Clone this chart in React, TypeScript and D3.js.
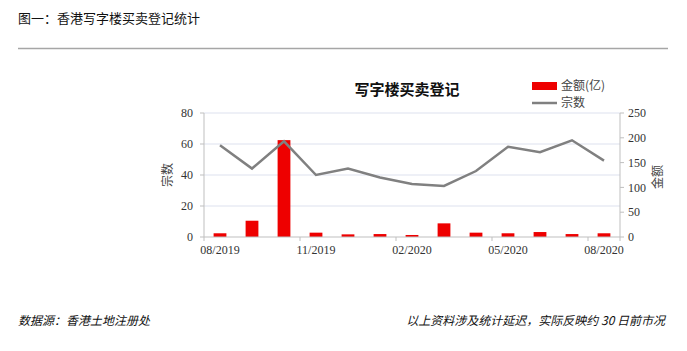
import React from "react";
import * as d3 from "d3";

const categories = ["08/2019","09/2019","10/2019","11/2019","12/2019","01/2020","02/2020","03/2020","04/2020","05/2020","06/2020","07/2020","08/2020"];
const amountValues = [2.4, 10.5, 62.5, 2.8, 1.7, 1.9, 1.3, 8.8, 2.8, 2.4, 3.2, 1.9, 2.4];
const countValues = [185, 138, 193, 125, 138, 120, 107, 103, 133, 182, 171, 195, 154];
const leftTicks = [0, 20, 40, 60, 80];
const rightTicks = [0, 50, 100, 150, 200, 250];
const labelEvery = 3;

const W = 687, H = 351;
const L = 204, R = 620, T = 113, B = 237;
const cjk = "'Noto Sans CJK SC', 'Noto Sans', sans-serif";
const serif = "'Liberation Serif', 'DejaVu Serif', serif";

export default function App() {
  const x = d3.scaleBand<string>().domain(categories).range([L, R]).paddingInner(0).paddingOuter(0);
  const yL = d3.scaleLinear().domain([0, 80]).range([B, T]);
  const yR = d3.scaleLinear().domain([0, 250]).range([B, T]);
  const bw = x.bandwidth() * 0.4;
  const line = d3.line<number>()
    .x((_, i) => (x(categories[i]) as number) + x.bandwidth() / 2)
    .y((d) => yR(d));

  return (
    <svg width={W} height={H} style={{ position: "absolute", left: 0, top: 0, background: "#fff" }}>
      <text x={18} y={23} fontFamily={cjk} fontSize={13} fill="#111">图一：香港写字楼买卖登记统计</text>
      <line x1={18} x2={668} y1={48.5} y2={48.5} stroke="#a6a6a6" strokeWidth={1.5} />

      <text x={407} y={95} textAnchor="middle" fontFamily={cjk} fontSize={15} fontWeight="bold" fill="#111">写字楼买卖登记</text>

      {leftTicks.slice(1).map((t) => (
        <line key={"g" + t} x1={L} x2={R} y1={yL(t)} y2={yL(t)} stroke="#dde1ee" strokeWidth={1} />
      ))}

      {categories.map((c, i) => (
        <rect key={c} x={(x(c) as number) + (x.bandwidth() - bw) / 2} y={yL(amountValues[i])}
          width={bw} height={B - yL(amountValues[i])} fill="#ee0000" />
      ))}

      <path d={line(countValues) || ""} fill="none" stroke="#808080" strokeWidth={2.5} />

      <line x1={L} x2={L} y1={T} y2={B} stroke="#bfbfbf" />
      <line x1={R} x2={R} y1={T} y2={B} stroke="#bfbfbf" />
      <line x1={L} x2={R} y1={B} y2={B} stroke="#bfbfbf" />

      {leftTicks.map((t) => (
        <g key={"l" + t}>
          <line x1={L - 4} x2={L} y1={yL(t)} y2={yL(t)} stroke="#bfbfbf" />
          <text x={L - 11} y={yL(t)} dy="0.35em" textAnchor="end" fontFamily={serif} fontSize={12} fill="#333">{t}</text>
        </g>
      ))}
      {rightTicks.map((t) => (
        <g key={"r" + t}>
          <line x1={R} x2={R + 4} y1={yR(t)} y2={yR(t)} stroke="#bfbfbf" />
          <text x={R + 8} y={yR(t)} dy="0.35em" textAnchor="start" fontFamily={serif} fontSize={12} fill="#333">{t}</text>
        </g>
      ))}

      {categories.map((c, i) => (i % labelEvery === 0 ? (
        <g key={"x" + c}>
          <line x1={x(c) as number} x2={x(c) as number} y1={B} y2={B + 4} stroke="#bfbfbf" />
          <text x={(x(c) as number) + x.bandwidth() / 2} y={B + 17} textAnchor="middle" fontFamily={serif} fontSize={12} fill="#333">{c}</text>
        </g>
      ) : null))}
      <line x1={R} x2={R} y1={B} y2={B + 4} stroke="#bfbfbf" />

      <text transform={`translate(172,175) rotate(-90)`} textAnchor="middle" fontFamily={cjk} fontSize={12} fill="#444">宗数</text>
      <text transform={`translate(662,177) rotate(-90)`} textAnchor="middle" fontFamily={cjk} fontSize={12} fill="#444">金额</text>

      <rect x={532} y={82} width={25} height={8} fill="#ee0000" />
      <text x={561} y={86} dy="0.35em" fontFamily={cjk} fontSize={12} fill="#444">金额(亿)</text>
      <line x1={532} x2={557} y1={103} y2={103} stroke="#808080" strokeWidth={2.5} />
      <text x={561} y={103} dy="0.35em" fontFamily={cjk} fontSize={12} fill="#444">宗数</text>

      <text x={18} y={325} fontFamily={cjk} fontSize={12} fontStyle="italic" fill="#111">数据源：香港土地注册处</text>
      <text x={665} y={325} textAnchor="end" fontFamily={cjk} fontSize={12} fontStyle="italic" fill="#111">以上资料涉及统计延迟，实际反映约 30 日前市况</text>
    </svg>
  );
}
